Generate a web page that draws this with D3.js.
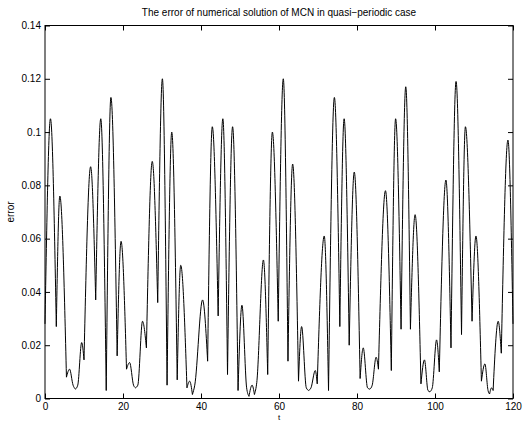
<!DOCTYPE html>
<html><head><meta charset="utf-8">
<script src="https://cdn.jsdelivr.net/npm/d3@7"></script>
<style>
body{margin:0;background:#fff}
svg{display:block}
text{font-family:"Liberation Sans",Arial,Helvetica,sans-serif;fill:#000}
</style>
</head><body>
<svg id="chart" width="528" height="422"></svg>
<script>
// ---- data ----
const tValues = [
  0, 1.4, 2.9, 3.8, 5.5, 6.3, 7.2, 7.8, 8.4, 9.4, 10.0, 11.7, 13.0, 14.3, 15.7, 16.9, 18.5, 19.5,
  20.9, 21.7, 22.7, 23.2, 23.8, 25.0, 26.0, 27.5, 28.9, 30.1, 31.3, 32.5, 33.9, 34.8, 36.4, 37.1,
  37.8, 38.4, 40.4, 41.7, 42.9, 44.4, 45.6, 46.8, 48.1, 49.5, 50.5, 51.7, 52.3, 53.1, 53.7, 54.3,
  56.0, 57.1, 58.3, 59.8, 61.1, 62.3, 63.5, 65.0, 65.8, 67.0, 67.6, 68.2, 69.3, 69.8, 71.6, 72.7,
  74.2, 75.6, 76.7, 78.0, 79.3, 80.8, 81.6, 82.7, 83.3, 83.9, 84.9, 85.5, 87.3, 88.8, 89.9, 91.3,
  92.5, 93.7, 94.9, 96.4, 97.3, 98.2, 98.7, 99.3, 100.4, 101.1, 102.8, 104.1, 105.4, 106.8, 107.8,
  109.5, 110.5, 111.9, 112.8, 113.6, 114.0, 114.5, 114.9, 116.2, 117.0, 118.7, 120
];
const errValues = [
  0.028, 0.105, 0.027, 0.076, 0.008, 0.011, 0.005, 0.0035, 0.005, 0.021, 0.0145, 0.087, 0.037, 0.105, 0.003, 0.113, 0.016, 0.059,
  0.011, 0.0135, 0.005, 0.004, 0.005, 0.029, 0.019, 0.089, 0.036, 0.120, 0.005, 0.100, 0.007, 0.050, 0.004, 0.0065,
  0.0015, 0.005, 0.037, 0.014, 0.102, 0.031, 0.105, 0.009, 0.102, 0.003, 0.035, 0.004, 0.0008, 0.005, 0.0015, 0.006,
  0.052, 0.009, 0.100, 0.029, 0.120, 0.014, 0.088, 0.0065, 0.027, 0.004, 0.003, 0.004, 0.0105, 0.0055, 0.061, 0.003,
  0.113, 0.027, 0.105, 0.020, 0.085, 0.0075, 0.019, 0.004, 0.0035, 0.005, 0.0155, 0.011, 0.078, 0.0105, 0.105, 0.026,
  0.117, 0.026, 0.069, 0.0055, 0.0145, 0.003, 0.0025, 0.004, 0.022, 0.010, 0.082, 0.019, 0.119, 0.024, 0.102,
  0.029, 0.061, 0.0065, 0.013, 0.003, 0.0017, 0.004, 0.003, 0.029, 0.017, 0.097, 0.028
];
const xTicks = [0, 20, 40, 60, 80, 100, 120];
const xTickLabels = ["0", "20", "40", "60", "80", "100", "120"];
const yTicks = [0, 0.02, 0.04, 0.06, 0.08, 0.10, 0.12, 0.14];
const yTickLabels = ["0", "0.02", "0.04", "0.06", "0.08", "0.1", "0.12", "0.14"];
const titleText = "The error of numerical solution of MCN in quasi\u2212periodic case";
const xLabelText = "t";
const yLabelText = "error";

// ---- layout ----
const svg = d3.select("#chart");
const L = 45, R = 513, T = 25.5, B = 398.5;
const x = d3.scaleLinear().domain([0, 120]).range([L, R]);
const y = d3.scaleLinear().domain([0, 0.14]).range([B, T]);
const tick = 5;

const g = svg.append("g");

function styleAxis(sel) {
  sel.select(".domain").remove();
  sel.selectAll(".tick line").attr("stroke", "#000").attr("stroke-width", 1);
  sel.selectAll(".tick text").attr("font-size", 10).attr("fill", "#000")
     .attr("font-family", '"Liberation Sans",Arial,Helvetica,sans-serif');
}

g.append("g").attr("transform", `translate(0,${B})`)
  .call(d3.axisBottom(x).tickValues(xTicks).tickSizeInner(-tick).tickSizeOuter(0).tickPadding(4)
    .tickFormat((d, i) => xTickLabels[i]))
  .call(styleAxis);
g.append("g").attr("transform", `translate(0,${T})`)
  .call(d3.axisTop(x).tickValues(xTicks).tickSizeInner(-tick).tickSizeOuter(0).tickFormat(""))
  .call(styleAxis);
g.append("g").attr("transform", `translate(${L},0)`)
  .call(d3.axisLeft(y).tickValues(yTicks).tickSizeInner(-tick).tickSizeOuter(0).tickPadding(4)
    .tickFormat((d, i) => yTickLabels[i]))
  .call(styleAxis);
g.append("g").attr("transform", `translate(${R},0)`)
  .call(d3.axisRight(y).tickValues(yTicks).tickSizeInner(-tick).tickSizeOuter(0).tickFormat(""))
  .call(styleAxis);

g.append("rect").attr("x", L).attr("y", T).attr("width", R - L).attr("height", B - T)
  .attr("fill", "none").attr("stroke", "#000").attr("stroke-width", 1);

// ---- curve: split at local minima (cusps), smooth within each arch ----
const pts = tValues.map((t, i) => [t, errValues[i]]);
const segments = [];
let cur = [pts[0]];
for (let i = 1; i < pts.length; i++) {
  cur.push(pts[i]);
  const isMin = i < pts.length - 1 && pts[i][1] < pts[i - 1][1] && pts[i][1] < pts[i + 1][1];
  if (isMin) { segments.push(cur); cur = [pts[i]]; }
}
if (cur.length > 1) segments.push(cur);

const line = d3.line().x(d => x(d[0])).y(d => y(d[1])).curve(d3.curveMonotoneX);
g.append("path")
  .attr("d", segments.map(s => line(s)).join(""))
  .attr("fill", "none").attr("stroke", "#000").attr("stroke-width", 1)
  .attr("stroke-linejoin", "round");

// ---- text ----
svg.append("text").attr("x", (L + R) / 2).attr("y", 16).attr("text-anchor", "middle")
  .attr("font-size", 10).text(titleText);
svg.append("text").attr("x", (L + R) / 2).attr("y", 420).attr("text-anchor", "middle")
  .attr("font-size", 8).text(xLabelText);
svg.append("text").attr("transform", `translate(14,${(T + B) / 2}) rotate(-90)`)
  .attr("text-anchor", "middle").attr("font-size", 10).text(yLabelText);
</script>
</body></html>
